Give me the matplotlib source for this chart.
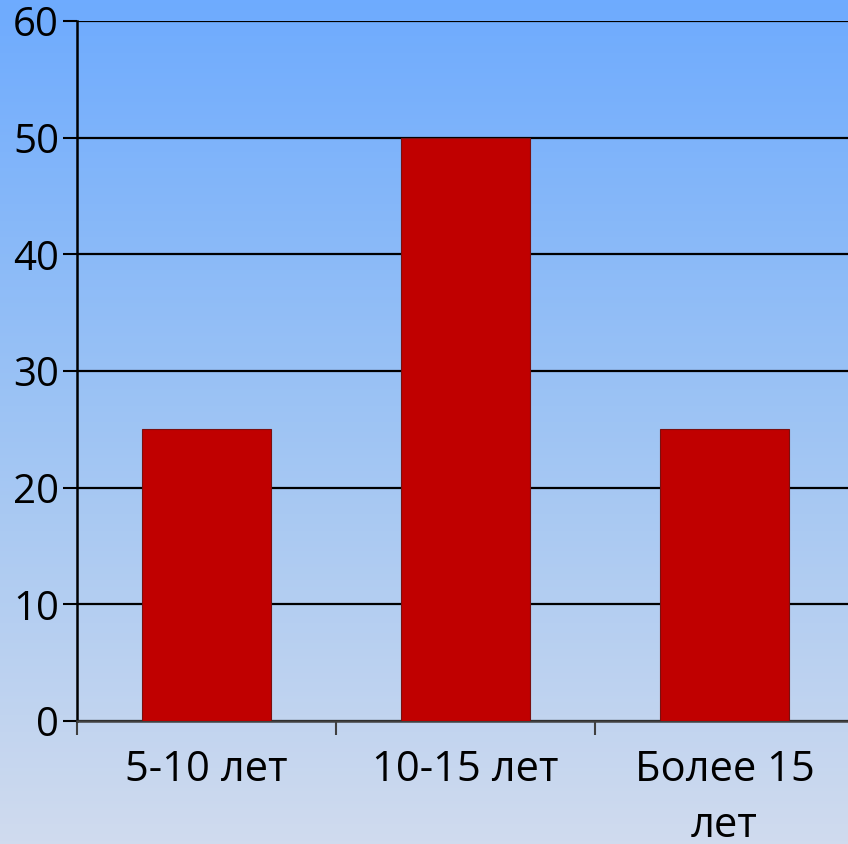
import numpy as np
import matplotlib.pyplot as plt
from matplotlib.colors import LinearSegmentedColormap

categories = ['5-10 лет', '10-15 лет', 'Более 15\nлет']
values = [25, 50, 25]
yticks = [0, 10, 20, 30, 40, 50, 60]

plt.rcParams['font.family'] = ['Open Sans', 'DejaVu Sans']

fig = plt.figure(figsize=(8.48, 8.44), dpi=100)

# gradient background over the whole figure
bg = fig.add_axes([0, 0, 1, 1], zorder=-10)
cmap = LinearSegmentedColormap.from_list('bg', ['#6eabfe', '#9ec4f4', '#d0dbee'])
grad = np.linspace(0, 1, 256).reshape(-1, 1)
bg.imshow(grad, aspect='auto', cmap=cmap, extent=[0, 1, 0, 1])
bg.set_axis_off()

W, H = 848, 844
left, right, top, bottom = 77, 854, 21, 721
ax = fig.add_axes([left / W, 1 - bottom / H, (right - left) / W, (bottom - top) / H])
ax.patch.set_alpha(0)

x = np.arange(len(categories))
ax.bar(x, values, width=0.495, color='#c00000', edgecolor='#7a1010', linewidth=0.8, zorder=3)

ax.set_xlim(-0.5, len(categories) - 0.5)
ax.set_ylim(0, 60)
ax.set_yticks(yticks)
ax.yaxis.grid(True, color='black', linewidth=1.6, zorder=1)
ax.set_axisbelow(True)

ax.set_xticks(np.arange(len(categories) + 1) - 0.5)
ax.set_xticklabels([])
ax.set_xticks(x, minor=True)
ax.set_xticklabels(categories, minor=True, linespacing=1.45)
ax.tick_params(axis='x', which='minor', length=0, pad=20, labelsize=30)
ax.tick_params(axis='x', which='major', length=10, width=1.5, color='#404040')
ax.tick_params(axis='y', length=10, width=1.5, pad=3, labelsize=29)

for s in ['top', 'right']:
    ax.spines[s].set_visible(False)
ax.spines['left'].set_linewidth(1.8)
ax.spines['left'].set_color('black')
ax.spines['bottom'].set_linewidth(1.8)
ax.spines['bottom'].set_color('#404040')

fig.savefig('out.png', dpi=100)
